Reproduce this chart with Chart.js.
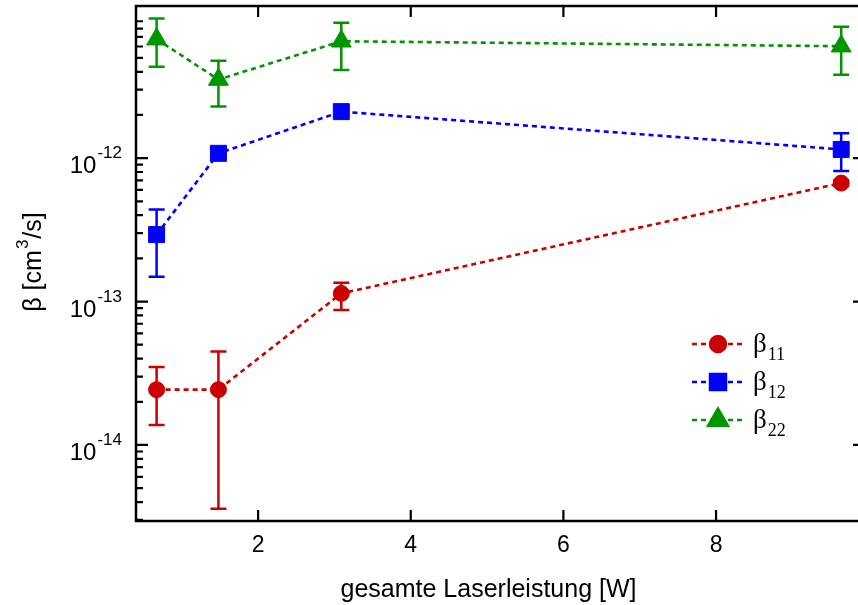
<!DOCTYPE html>
<html><head><meta charset="utf-8">
<script src="https://cdn.jsdelivr.net/npm/chart.js@4/dist/chart.umd.min.js"></script>
<style>html,body{margin:0;padding:0;overflow:hidden;background:#fff}#wrap{width:858px;height:605px}</style>
</head><body><div id="wrap"><canvas id="c" width="858" height="605"></canvas></div>
<script>
// total laser power [W]
const power = [0.67, 1.48, 3.09, 9.64];
// beta values [cm^3/s] with upper / lower error bounds
const beta11   = [2.43e-14, 2.43e-14, 1.14e-13, 6.7e-13];
const beta11Hi = [3.49e-14, 4.48e-14, 1.35e-13, 7.0e-13];
const beta11Lo = [1.38e-14, 3.59e-15, 8.73e-14, 6.4e-13];
const beta12   = [2.93e-13, 1.08e-12, 2.11e-12, 1.15e-12];
const beta12Hi = [4.38e-13, 1.16e-12, 2.25e-12, 1.49e-12];
const beta12Lo = [1.49e-13, 1.00e-12, 1.98e-12, 8.12e-13];
const beta22   = [6.75e-12, 3.53e-12, 6.53e-12, 6.03e-12];
const beta22Hi = [9.41e-12, 4.78e-12, 8.79e-12, 8.24e-12];
const beta22Lo = [4.34e-12, 2.29e-12, 4.12e-12, 3.82e-12];
const seriesSub = ['11', '12', '22'];
const xTicks = [2, 4, 6, 8];
const yMajorTicks = [1e-14, 1e-13, 1e-12];
const xTitle = 'gesamte Laserleistung [W]';

const colors = ['#cc0000', '#0000ff', '#009600'];
const styles = [
  {pointStyle: 'circle', radius: 8},
  {pointStyle: 'rect', radius: 11.3},
  {pointStyle: 'triangle', radius: 11.5}
];
const vals = [beta11, beta12, beta22], his = [beta11Hi, beta12Hi, beta22Hi], los = [beta11Lo, beta12Lo, beta22Lo];

const datasets = vals.map((v, i) => ({
  label: 'β' + seriesSub[i],
  data: power.map((p, j) => ({x: p, y: v[j]})),
  hi: his[i], lo: los[i],
  borderColor: colors[i], backgroundColor: colors[i],
  pointBackgroundColor: colors[i], pointBorderColor: colors[i], pointBorderWidth: 1,
  borderWidth: 2.6, borderDash: [5, 4],
  pointStyle: styles[i].pointStyle, pointRadius: styles[i].radius, pointHoverRadius: styles[i].radius,
  tension: 0, fill: false
}));

const SANS = '"Liberation Sans", Arial, sans-serif';
const SERIF = '"Liberation Serif", "Times New Roman", serif';
const RIGHT_AXIS = 865; // right frame lies just outside the visible picture

const deco = {
  id: 'deco',
  beforeDatasetsDraw(chart) {
    const {ctx, scales: {x, y}} = chart;
    chart.data.datasets.forEach(ds => {
      ctx.save();
      ctx.strokeStyle = ds.borderColor; ctx.lineWidth = 2.5; ctx.setLineDash([]);
      ds.data.forEach((p, j) => {
        const px = x.getPixelForValue(p.x);
        const ph = y.getPixelForValue(ds.hi[j]);
        const pl = y.getPixelForValue(ds.lo[j]);
        ctx.beginPath();
        ctx.moveTo(px, ph); ctx.lineTo(px, pl);
        ctx.moveTo(px - 8, ph); ctx.lineTo(px + 8, ph);
        ctx.moveTo(px - 8, pl); ctx.lineTo(px + 8, pl);
        ctx.stroke();
      });
      ctx.restore();
    });
  },
  afterDraw(chart) {
    const {ctx, chartArea: a, scales: {x, y}} = chart;
    ctx.save();
    ctx.strokeStyle = '#000'; ctx.lineWidth = 2.5; ctx.setLineDash([]);
    ctx.beginPath();
    ctx.moveTo(RIGHT_AXIS, a.top); ctx.lineTo(a.left, a.top); ctx.lineTo(a.left, a.bottom); ctx.lineTo(RIGHT_AXIS, a.bottom);
    ctx.stroke();
    ctx.lineWidth = 2.2;
    ctx.beginPath();
    xTicks.forEach(t => {
      const px = x.getPixelForValue(t);
      ctx.moveTo(px, a.bottom); ctx.lineTo(px, a.bottom - 11);
      ctx.moveTo(px, a.top); ctx.lineTo(px, a.top + 11);
    });
    yMajorTicks.forEach(t => {
      const py = y.getPixelForValue(t);
      ctx.moveTo(a.left, py); ctx.lineTo(a.left + 12, py);
      ctx.moveTo(RIGHT_AXIS, py); ctx.lineTo(RIGHT_AXIS - 12, py);
    });
    const dec0 = Math.floor(Math.log10(y.min)), dec1 = Math.ceil(Math.log10(y.max));
    for (let d = dec0; d <= dec1; d++) {
      for (let m = 2; m <= 9; m++) {
        const v = m * Math.pow(10, d);
        if (v < y.min || v > y.max) continue;
        const py = y.getPixelForValue(v);
        ctx.moveTo(a.left, py); ctx.lineTo(a.left + 7, py);
      }
    }
    ctx.stroke();

    ctx.fillStyle = '#000';
    ctx.textBaseline = 'alphabetic';
    yMajorTicks.forEach(t => {
      const py = y.getPixelForValue(t);
      const e = '-' + Math.abs(Math.round(Math.log10(t)));
      ctx.font = '17px ' + SANS;
      ctx.textAlign = 'right';
      const we = ctx.measureText(e).width;
      ctx.fillText(e, a.left - 14, py);
      ctx.font = '24px ' + SANS;
      ctx.fillText('10', a.left - 14 - we - 1, py + 15);
    });

    ctx.font = '25px ' + SANS;
    ctx.textAlign = 'center';
    ctx.fillText(xTitle, 488.5, 597);

    ctx.save();
    ctx.translate(41, 262);
    ctx.rotate(-Math.PI / 2);
    ctx.textAlign = 'left';
    const p1 = 'β [cm', p2 = '3', p3 = '/s]';
    ctx.font = '25px ' + SANS; const w1 = ctx.measureText(p1).width, w3 = ctx.measureText(p3).width;
    ctx.font = '17px ' + SANS; const w2 = ctx.measureText(p2).width;
    let sx = -(w1 + w2 + w3 + 2) / 2;
    ctx.font = '25px ' + SANS; ctx.fillText(p1, sx, 0); sx += w1 + 1;
    ctx.font = '17px ' + SANS; ctx.fillText(p2, sx, -13); sx += w2 + 1;
    ctx.font = '25px ' + SANS; ctx.fillText(p3, sx, 0);
    ctx.restore();

    chart.data.datasets.forEach((ds, i) => {
      const cy = 344 + i * 38;
      ctx.save();
      ctx.strokeStyle = ds.borderColor; ctx.lineWidth = 2.5; ctx.setLineDash([5, 4]);
      ctx.beginPath(); ctx.moveTo(692, cy); ctx.lineTo(743, cy); ctx.stroke();
      ctx.setLineDash([]);
      ctx.fillStyle = ds.backgroundColor; ctx.strokeStyle = ds.borderColor;
      Chart.helpers.drawPoint(ctx, {pointStyle: ds.pointStyle, radius: ds.pointRadius, rotation: 0, borderWidth: 1}, 718, cy);
      ctx.restore();
      ctx.fillStyle = '#000'; ctx.textAlign = 'left';
      ctx.font = '27px ' + SERIF;
      ctx.fillText('β', 753, cy + 8);
      const wb = ctx.measureText('β').width;
      ctx.font = '18px ' + SERIF;
      ctx.fillText(seriesSub[i], 753 + wb + 1, cy + 16);
    });
    ctx.restore();
  }
};

new Chart(document.getElementById('c'), {
  type: 'line',
  data: {datasets},
  options: {
    responsive: false, animation: false, devicePixelRatio: 1,
    layout: {autoPadding: false, padding: {top: 6, right: 0, left: 0, bottom: 0}},
    plugins: {legend: {display: false}, tooltip: {enabled: false}},
    scales: {
      x: {
        type: 'linear', min: 0.4, max: 9.86,
        grid: {display: false, drawTicks: false},
        border: {display: false},
        ticks: {stepSize: 2, includeBounds: false, color: '#000', padding: 11,
                font: {family: SANS, size: 23}},
        afterFit: s => { s.height = 84; }
      },
      y: {
        type: 'logarithmic', min: 2.95e-15, max: 1.15e-11,
        grid: {display: false, drawTicks: false},
        border: {display: false},
        ticks: {display: false},
        afterFit: s => { s.width = 136; }
      }
    }
  },
  plugins: [deco]
});
</script>
</body></html>
